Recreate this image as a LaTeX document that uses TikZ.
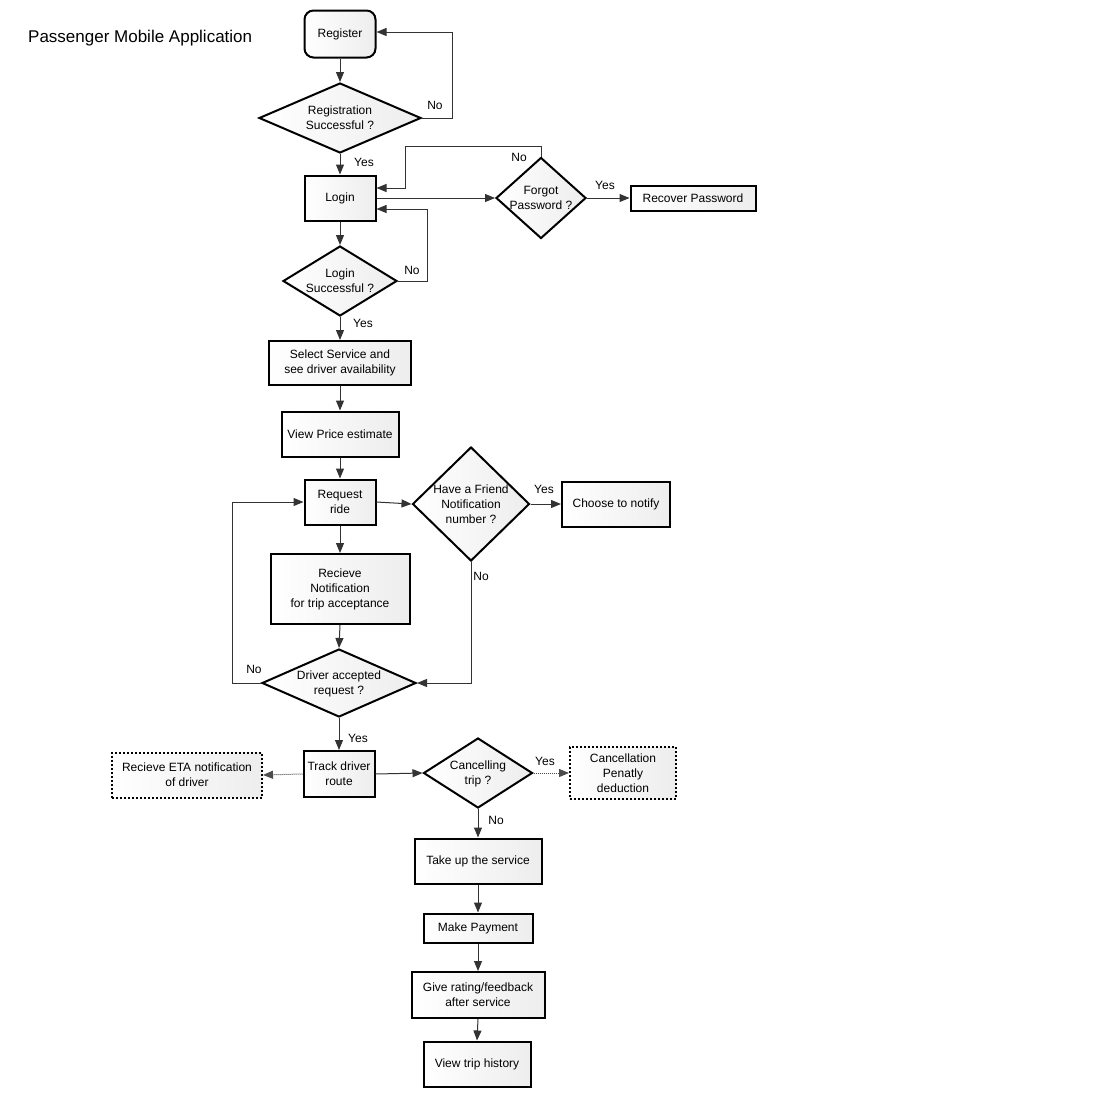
\documentclass[tikz,border=0pt]{standalone}
\usepackage{fontspec}
\setmainfont{Liberation Sans}
\usetikzlibrary{shapes.geometric,arrows.meta,calc}
\newcommand{\zb}[1]{\makebox[0pt]{\raisebox{-0.35em}[0pt][0pt]{\begin{tabular}{@{}c@{}}#1\end{tabular}}}}
\tikzset{
  base/.style={line width=2pt, draw=black, left color=white, right color=black!7, inner sep=0pt, align=center, font=\fontsize{12}{15}\selectfont},
  box/.style={base, rectangle},
  dbox/.style={base, rectangle, dash pattern=on 2pt off 2pt},
  dia/.style={base, diamond},
  arr/.style={draw=black!80, line width=1pt, -{Triangle[length=10pt,width=8pt]}},
  darr/.style={draw=black!70, line width=1pt, dash pattern=on 1pt off 1pt, -{Triangle[length=10pt,width=8pt]}},
  lbl/.style={font=\fontsize{12}{15}\selectfont, inner sep=0pt}
}
\begin{document}
\begin{tikzpicture}[x=1pt,y=-1pt]
\useasboundingbox[fill=white] (0,0) rectangle (1100,1100);
\node[anchor=west, font=\fontsize{17}{20}\selectfont, inner sep=0pt] (title) at (28,38) {Passenger Mobile Application};

\node[box, rounded corners=9pt, minimum width=71pt, minimum height=47pt] (reg) at (340,34) {Register};
\node[dia, minimum width=162pt, minimum height=70pt] (regq) at (340,118) {\zb{Registration\\Successful ?}};
\node[box, minimum width=71pt, minimum height=45pt] (login) at (340,198) {Login};
\node[dia, minimum width=90pt, minimum height=81pt] (forgot) at (541,198) {\zb{Forgot\\Password ?}};
\node[box, minimum width=125pt, minimum height=25pt] (recover) at (693,198) {Recover Password};
\node[dia, minimum width=114pt, minimum height=70pt] (loginq) at (340,281) {\zb{Login\\Successful ?}};
\node[box, minimum width=142pt, minimum height=44pt] (select) at (340,363) {Select Service and\\see driver availability};
\node[box, minimum width=117pt, minimum height=45pt] (price) at (340,434) {View Price estimate};
\node[box, minimum width=71pt, minimum height=45pt] (req) at (340,502) {Request\\ride};
\node[dia, minimum width=117pt, minimum height=114pt] (friend) at (471,504) {\zb{Have a Friend\\Notification\\number ?}};
\node[box, minimum width=108pt, minimum height=45pt] (notify) at (616,504) {Choose to notify};
\node[box, minimum width=139pt, minimum height=70pt] (recv) at (340,589) {Recieve\\Notification\\for trip acceptance};
\node[dia, minimum width=154pt, minimum height=68pt] (drvq) at (339,683) {\zb{Driver accepted\\request ?}};
\node[box, minimum width=71pt, minimum height=46pt] (track) at (339,774) {Track driver\\route};
\node[dbox, minimum width=150pt, minimum height=45pt] (eta) at (187,775) {Recieve ETA notification\\of driver};
\node[dia, minimum width=109pt, minimum height=70pt] (canc) at (478,773) {\zb{Cancelling\\trip ?}};
\node[dbox, minimum width=106pt, minimum height=52pt] (pen) at (623,773) {Cancellation\\Penatly\\deduction};
\node[box, minimum width=127pt, minimum height=45pt] (take) at (478,861) {Take up the service};
\node[box, minimum width=109pt, minimum height=29pt] (pay) at (478,928) {Make Payment};
\node[box, minimum width=133pt, minimum height=46pt] (rate) at (478,995) {Give rating/feedback\\after service};
\node[box, minimum width=107pt, minimum height=45pt] (hist) at (477,1064) {View trip history};

% connectors
\draw[arr] (reg.south) -- (regq.north);
\draw[arr] (regq.east) -- ++(30,0) |- ($(reg.east)+(0,-2)$);
\node[lbl] (l1) at (435,105) {No};
\draw[arr] (regq.south) -- (login.north);
\node[lbl] (l2) at (364,162) {Yes};
\draw[arr] (login.east) -- (forgot.west);
\draw[arr] (forgot.north) -- ++(0,-10) -| ($(login.east)+(29,-10)$) -- ($(login.east)+(0,-10)$);
\node[lbl] (l3) at (519,157) {No};
\draw[arr] (forgot.east) -- (recover.west);
\node[lbl] (l4) at (605,185) {Yes};
\draw[arr] (login.south) -- (loginq.north);
\draw[arr] (loginq.east) -- ++(29,0) |- ($(login.east)+(0,11)$);
\node[lbl] (l5) at (412,270) {No};
\draw[arr] (loginq.south) -- (select.north);
\node[lbl] (l6) at (363,323) {Yes};
\draw[arr] (select.south) -- (price.north);
\draw[arr] (price.south) -- (req.north);
\draw[arr] (req.east) -- (friend.west);
\draw[arr] (friend.east) -- (notify.west);
\node[lbl] (l7) at (544,489) {Yes};
\draw[arr] (friend.south) |- (drvq.east);
\node[lbl] (l8) at (481,576) {No};
\draw[arr] (req.south) -- (recv.north);
\draw[arr] (recv.south) -- (drvq.north);
\draw[arr] (drvq.west) -- ++(-29,0) |- (req.west);
\node[lbl] (l9) at (254,669) {No};
\draw[arr] (drvq.south) -- (track.north);
\node[lbl] (l10) at (358,738) {Yes};
\draw[darr] (track.west) -- (eta.east);
\draw[arr] (track.east) -- (canc.west);
\draw[darr] (canc.east) -- (pen.west);
\node[lbl] (l11) at (545,761) {Yes};
\draw[arr] (canc.south) -- (take.north);
\node[lbl] (l12) at (496,820) {No};
\draw[arr] (take.south) -- (pay.north);
\draw[arr] (pay.south) -- (rate.north);
\draw[arr] (rate.south) -- (hist.north);
\end{tikzpicture}
\end{document}
